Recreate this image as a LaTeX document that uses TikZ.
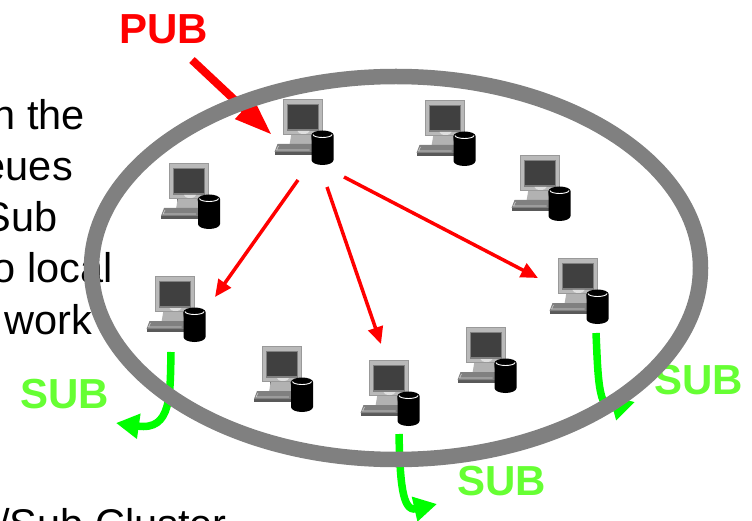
\documentclass[tikz,border=0pt]{standalone}
\usepackage{fontspec}
\setmainfont{Liberation Sans}
\usetikzlibrary{arrows.meta}
\definecolor{ringgray}{HTML}{808080}
\definecolor{subgreen}{HTML}{66FF33}
\definecolor{flowgreen}{HTML}{00FF00}
\tikzset{
  bodytext/.style={anchor=base east,inner sep=0pt,font=\fontsize{41.5}{41.5}\selectfont,text=black},
  publabel/.style={inner sep=0pt,anchor=base west,font=\fontsize{42}{42}\selectfont\bfseries,text=red},
  sublabel/.style={inner sep=0pt,anchor=base west,font=\fontsize{42}{42}\selectfont\bfseries,text=subgreen},
  redthin/.style={draw=red,line width=3.5pt,-{Triangle[length=17pt,width=15pt]}},
  redthick/.style={draw=red,line width=8pt,-{Triangle[length=38pt,width=25pt]}},
  greenflow/.style={draw=flowgreen,line width=7.5pt,-{Triangle[length=23pt,width=24pt]}},
  ring/.style={draw=ringgray,line width=15.5pt},
  computer/.pic={
    \fill[black!70] (7,32) -- (28,32) -- (28,44) -- (7,44) -- cycle;
    \fill[gray!60] (8,33) -- (27,33) -- (29,45) -- (6,45) -- cycle;
    \fill[black!65] (-9,52) -- (28,52) -- (28,55) -- (-9,55) -- cycle;
    \fill[gray] (-6,44) -- (30,44) -- (30,52) -- (-9,52) -- cycle;
    \draw[gray!35,line width=.6pt] (-5,46) -- (-7,50) -- (26,50);
    \fill[gray!80] (-1,-1) rectangle (39,35);
    \fill[gray!55] (0,0) rectangle (38,34);
    \fill[gray] (3,4) rectangle (35,31);
    \fill[black!75] (4,5) rectangle (34,29);
    \fill[gray!25] (14,31) arc[start angle=180,end angle=0,x radius=6,y radius=3] -- cycle;
    \fill[black] (28,35) -- (28,60) arc[start angle=180,end angle=0,x radius=11,y radius=5]
       -- (50,35) arc[start angle=0,end angle=-180,x radius=11,y radius=4.5] -- cycle;
    \draw[white,line width=.9pt] (29.5,34.5) arc[start angle=180,end angle=0,x radius=9.5,y radius=3];
  }
}
\begin{document}
\begin{tikzpicture}[x=1pt,y=-1pt]
\useasboundingbox (0,0) rectangle (752,521);
\clip (0,0) rectangle (752,521);
% body text cropped at the left of the picture
\node[bodytext] (t0) at (3,8) {y};
\node[bodytext] (t1) at (85,130) {n the};
\node[bodytext] (t2) at (73,181) {eues};
\node[bodytext] (t3) at (58,232) {Sub};
\node[bodytext] (t4) at (113,283) {o local};
\node[bodytext] (t5) at (92,334) {work};
\node[bodytext] (t6) at (227,538) {/Sub Cluster};
% labels
\node[publabel] (pub) at (119,44) {PUB};
\node[sublabel] (sub1) at (20,408.5) {SUB};
\node[sublabel] (sub2) at (457,495.5) {SUB};
\node[sublabel] (sub3) at (654,394) {SUB};
% computers
\pic at (283.5,100) {computer};
\pic at (425.5,101) {computer};
\pic at (520.5,156) {computer};
\pic at (170,164) {computer};
\pic at (155.5,277) {computer};
\pic at (263,347) {computer};
\pic at (369.5,361) {computer};
\pic at (466.5,328) {computer};
\pic at (558.5,259) {computer};
% connector ends
\coordinate (pubstart) at (192,60);
\coordinate (pubend) at (272,135);
\coordinate (a0) at (298,180);
\coordinate (b0) at (327,187);
\coordinate (c0) at (344,177);
\coordinate (a1) at (215,297);
\coordinate (b1) at (381,344);
\coordinate (c1) at (538,278);
\coordinate (s1) at (171,352);
\coordinate (s1e) at (116,423);
\coordinate (s2) at (399,434);
\coordinate (s2e) at (437,504);
\coordinate (s3) at (596,333);
\coordinate (s3e) at (635,402);
\draw[redthick] (pubstart) -- (pubend);
\draw[redthin] (a0) -- (a1);
\draw[redthin] (b0) -- (b1);
\draw[redthin] (c0) -- (c1);
\draw[greenflow] (s1) .. controls (170,395) and (172,431) .. (s1e);
\draw[greenflow] (s2) .. controls (400,480) and (402,512) .. (s2e);
\draw[greenflow] (s3) .. controls (598,375) and (598,412) .. (s3e);
% ring on top
\draw[ring] (396,268) ellipse[x radius=304.5,y radius=191.5];
\end{tikzpicture}
\end{document}
